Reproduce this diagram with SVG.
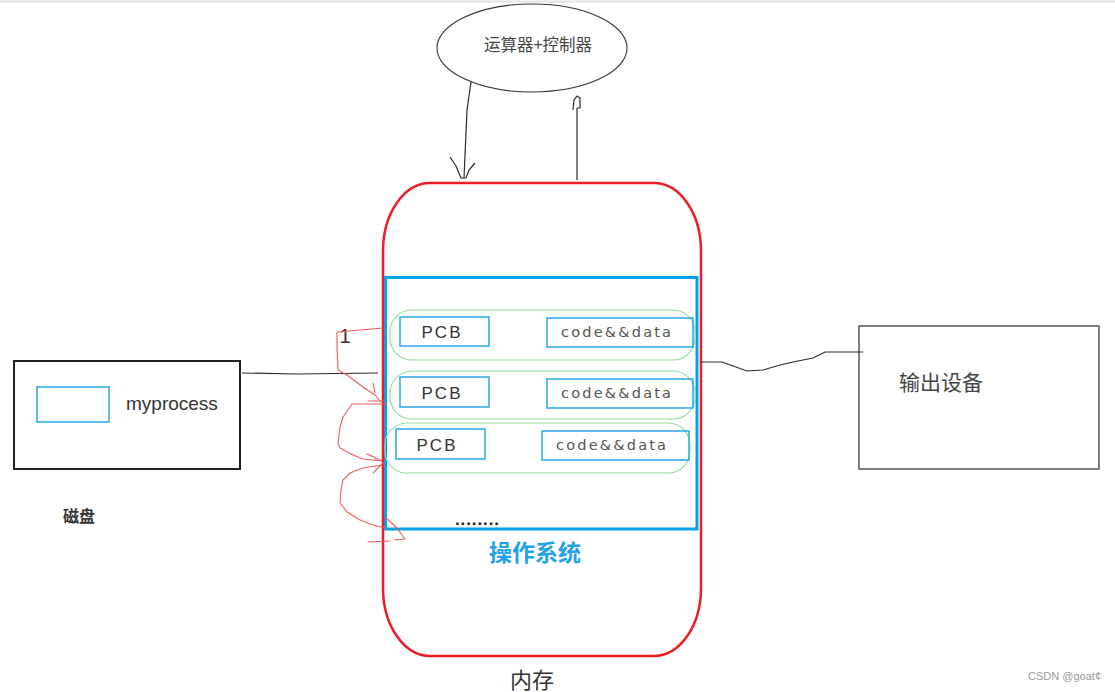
<svg xmlns="http://www.w3.org/2000/svg" width="1115" height="692" viewBox="0 0 1115 692">
<style>
.cjk{font-family:"Noto Sans CJK SC","Noto Sans",sans-serif}
.lat{font-family:"Liberation Sans","DejaVu Sans",sans-serif}
.dv{font-family:"DejaVu Sans","Liberation Sans",sans-serif}
.blue{fill:none;stroke:#29a8e6;stroke-width:1.5}
.green{fill:none;stroke:#8fdc9c;stroke-width:1.2}
.wire{fill:none;stroke:#2a2a2a;stroke-width:1.2}
.redpen{fill:none;stroke:#f25a5a;stroke-width:1.1;stroke-linejoin:round;stroke-linecap:round}
.pcb{font-size:17px;fill:#333;letter-spacing:2px}
.code{font-size:14.5px;fill:#555}
</style>
<rect width="1115" height="692" fill="#ffffff"/>
<line x1="0" y1="1.5" x2="1115" y2="1.5" stroke="#e2e2e2" stroke-width="2"/>

<g id="cpu">
<ellipse cx="532" cy="48" rx="95" ry="44" fill="#fff" stroke="#333" stroke-width="1.1"/>
<text x="538" y="51" class="cjk" font-size="16.5" fill="#444" text-anchor="middle">运算器+控制器</text>
</g>

<g id="memory">
<rect x="383" y="183" width="318" height="473" rx="47" ry="68" fill="none" stroke="#ee1c25" stroke-width="2.5"/>
<text x="532" y="688" class="cjk" font-size="22" fill="#333" text-anchor="middle">内存</text>
</g>

<g id="os">
<rect x="385.5" y="277.5" width="311.5" height="251.5" fill="none" stroke="#00a2e8" stroke-width="3"/>
<text x="535" y="561" class="cjk" font-size="23" font-weight="bold" fill="#1fa3e4" text-anchor="middle">操作系统</text>
<text x="455" y="525" class="lat" font-size="17" font-weight="bold" fill="#222" letter-spacing="0.9">........</text>
</g>

<g id="proc1">
<rect x="390" y="310" width="305" height="50" rx="22" ry="22" class="green"/>
<rect x="400" y="317" width="89" height="29" class="blue"/>
<text x="442" y="338" class="lat pcb" text-anchor="middle">PCB</text>
<rect x="547" y="318" width="146" height="29" class="blue"/>
<text x="561" y="337" class="dv code" textLength="110" lengthAdjust="spacing">code&amp;&amp;data</text>
</g>

<g id="proc2">
<rect x="390" y="371" width="305" height="48" rx="22" ry="22" class="green"/>
<rect x="400" y="377" width="89" height="30" class="blue"/>
<text x="442" y="399" class="lat pcb" text-anchor="middle">PCB</text>
<rect x="547" y="379" width="146" height="29" class="blue"/>
<text x="561" y="398" class="dv code" textLength="110" lengthAdjust="spacing">code&amp;&amp;data</text>
</g>

<g id="proc3">
<rect x="385" y="423" width="305" height="50" rx="22" ry="22" class="green"/>
<rect x="396" y="429" width="89" height="30" class="blue"/>
<text x="437" y="451" class="lat pcb" text-anchor="middle">PCB</text>
<rect x="542" y="431" width="147" height="29" class="blue"/>
<text x="556" y="450" class="dv code" textLength="110" lengthAdjust="spacing">code&amp;&amp;data</text>
</g>

<g id="disk">
<rect x="14" y="361" width="226" height="108" fill="none" stroke="#222" stroke-width="2"/>
<rect x="37" y="387" width="72" height="35" class="blue"/>
<text x="126" y="410" class="lat" font-size="19" fill="#333">myprocess</text>
<text x="79" y="522" class="cjk" font-size="16" font-weight="bold" fill="#333" text-anchor="middle">磁盘</text>
</g>

<g id="output">
<rect x="859" y="326" width="240" height="143" fill="none" stroke="#555" stroke-width="1.5"/>
<text x="941" y="390" class="cjk" font-size="21" fill="#444" text-anchor="middle">输出设备</text>
</g>

<text x="345" y="343" class="lat" font-size="20" fill="#333" text-anchor="middle">1</text>
<text x="1101" y="680" class="lat" font-size="11" fill="#9a9a9a" text-anchor="end">CSDN @goat¢</text>

<g id="connectors">
<path class="wire" d="M242,373 L296,374 L378,373"/>
<path class="wire" d="M701,362 L722,362 L747,371 L763,370 L780,365 L793,362 L813,358 L825,352 L835,352 L863,352"/>
<path class="wire" d="M471,82 L467,110 L464,178"/>
<path class="wire" d="M450,157 L456,166 L461,178 L466,178 L469,170 L475,163"/>
<path class="wire" d="M577,180 L577,108"/>
<path class="wire" d="M573,110 L574,100 L577,96 L580,98 L580,108 L577,108"/>
<g>
<path class="redpen" d="M383,328 L360,330 L337,332 L337,347 L338,370 L347,375 L363,387 L375,395 L381,402"/>
<path class="redpen" d="M373,383 L375,393"/>
<path class="redpen" d="M368,401 L383,401"/>
<path class="redpen" d="M387,404 L352,404 L343,417 L340,427 L338,443 L340,448 L353,455 L363,459 L382,461"/>
<path class="redpen" d="M367,454 L382,461"/>
<path class="redpen" d="M382,465 L363,468 L350,473 L343,480 L341,490 L340,503 L347,512 L360,520 L373,525 L385,528"/>
<path class="redpen" d="M373,473 L383,463"/>
<path class="redpen" d="M386,518 L397,528 L405,539 L395,540"/>
<path class="redpen" d="M368,542 L390,541"/>
</g>
</g>
</svg>
